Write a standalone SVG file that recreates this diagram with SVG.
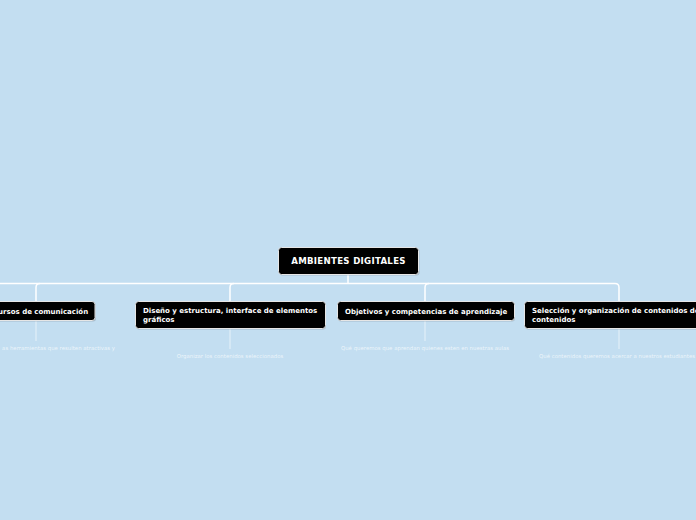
<svg xmlns="http://www.w3.org/2000/svg" width="696" height="520" viewBox="0 0 696 520">
<defs>
<style>
.bg{fill:#c3def1}
.box{fill:#000;stroke:#e6e6e6;stroke-width:1}
.shadow{fill:#8a9aa8;opacity:0.5}
.t{font-family:"DejaVu Sans",Verdana,sans-serif;font-weight:bold;fill:#fff;font-size:7px}
.root{font-size:8.6px;letter-spacing:0.3px}
.sub{font-family:"DejaVu Sans",Verdana,sans-serif;fill:#fff;fill-opacity:0.7;font-size:5.4px}
.c{fill:none;stroke:#fff;stroke-width:1.5}
.c2{fill:none;stroke:#fff;stroke-opacity:0.6;stroke-width:1}
</style>
</defs>
<rect class="bg" x="0" y="0" width="696" height="520"/>
<g id="connectors">
<path class="c" d="M348,274 V283.5"/>
<path class="c" d="M0,283.5 H615 Q619,283.5 619,287.5 V301"/>
<path class="c" d="M40,283.5 Q36,283.5 36,287.5 V301"/>
<path class="c" d="M234,283.5 Q230,283.5 230,287.5 V301"/>
<path class="c" d="M429,283.5 Q425,283.5 425,287.5 V301"/>
<path class="c2" d="M36,320 V341"/>
<path class="c2" d="M230,328 V349"/>
<path class="c2" d="M425,320 V341"/>
<path class="c2" d="M619,328 V349"/>
</g>
<g id="root">
<rect class="shadow" x="279.5" y="248.5" width="140" height="27" rx="3"/>
<rect class="box" x="278.5" y="247.5" width="140" height="27" rx="3"/>
<text class="t root" x="348.5" y="264" text-anchor="middle">AMBIENTES DIGITALES</text>
</g>
<g id="node1">
<rect class="shadow" x="-22" y="302.5" width="118" height="19" rx="3"/>
<rect class="box" x="-23" y="301.5" width="118" height="19" rx="3"/>
<text class="t" x="36" y="313.5" text-anchor="middle">Recursos de comunicación</text>
<text class="sub" x="115" y="350" text-anchor="end">as herramientas que resulten atractivas y</text>
</g>
<g id="node2">
<rect class="shadow" x="136" y="302.5" width="190" height="27" rx="3"/>
<rect class="box" x="135.5" y="301.5" width="190" height="27" rx="3"/>
<text class="t" x="143" y="313">Diseño y estructura, interface de elementos</text>
<text class="t" x="143" y="322">gráficos</text>
<text class="sub" x="230" y="358" text-anchor="middle">Organizar los contenidos seleccionados</text>
</g>
<g id="node3">
<rect class="shadow" x="338" y="302.5" width="177" height="19" rx="3"/>
<rect class="box" x="337.5" y="301.5" width="177" height="19" rx="3"/>
<text class="t" x="345" y="313.5">Objetivos y competencias de aprendizaje</text>
<text class="sub" x="425" y="350" text-anchor="middle">Qué queremos que aprendan quienes esten en nuestras aulas</text>
</g>
<g id="node4">
<rect class="shadow" x="525" y="302.5" width="190" height="27" rx="3"/>
<rect class="box" x="524.5" y="301.5" width="190" height="27" rx="3"/>
<text class="t" x="532" y="313">Selección y organización de contenidos de</text>
<text class="t" x="532" y="322">contenidos</text>
<text class="sub" x="539" y="358">Qué contenidos queremos acercar a nuestros estudiantes</text>
</g>
</svg>
